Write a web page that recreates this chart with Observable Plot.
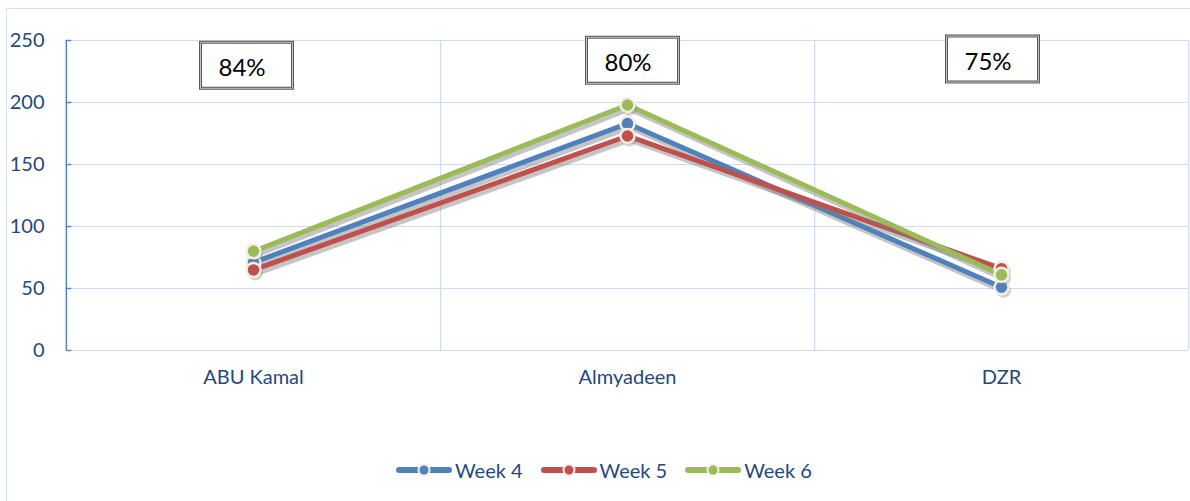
<!DOCTYPE html>
<html>
<head>
<meta charset="utf-8">
<script src="https://cdn.jsdelivr.net/npm/d3@7"></script>
<script src="https://cdn.jsdelivr.net/npm/@observablehq/plot@0.6"></script>
<style>
  html, body { margin: 0; padding: 0; background: #fff; width: 1190px; height: 501px; overflow: hidden; }
  #frame { position: absolute; left: 6px; top: 8px; width: 1200px; height: 520px; border: 1px solid #d5e2f2; box-sizing: border-box; }
  #chart { position: absolute; left: 0; top: 0; }
  #legend { position: absolute; left: 396px; top: 457px; display: flex; align-items: center; font-family: Lato, "Open Sans", sans-serif; font-size: 20px; color: #1f497d; line-height: 26px; }
  .item { display: flex; align-items: center; margin-right: 18px; }
  .item svg { margin-right: 3px; }
</style>
</head>
<body>
<div id="frame"></div>
<div id="chart"></div>
<div id="legend"></div>
<script>
const categories = ["ABU Kamal", "Almyadeen", "DZR"];
const seriesNames = ["Week 4", "Week 5", "Week 6"];
const week4 = [71, 183, 51];
const week5 = [65, 173, 66];
const week6 = [80, 198, 61];
const seriesColors = ["#4f81bd", "#c0504d", "#9bbb59"];
const yTicks = [0, 50, 100, 150, 200, 250];
const shareLabels = ["84%", "80%", "75%"];
const shareY = [230, 234, 235];

const seriesValues = [week4, week5, week6];
const data = [];
seriesNames.forEach((s, si) => categories.forEach((c, ci) => data.push({series: s, cat: c, value: seriesValues[si][ci]})));
const ann = categories.map((c, i) => ({cat: c, label: shareLabels[i], y: shareY[i]}));

const W = 1190, ML = 65, MR = 2;
const step = (W - ML - MR) / categories.length;
const gridColor = "#cddcf0";
const textColor = "#1f497d";

const boxSymbol = {draw(ctx) { ctx.rect(-46, -23, 92, 46); }};
const tickSymbol = {draw(ctx) { ctx.moveTo(0, 0); ctx.lineTo(5, 0); }};

const marks = [
  Plot.gridY(yTicks, {stroke: gridColor, strokeOpacity: 1, strokeWidth: 1.2}),
  Plot.ruleX(categories, {dx: step / 2, stroke: gridColor, strokeWidth: 1.2}),
  Plot.ruleX([categories[0]], {dx: -step / 2, stroke: "#5b84bb", strokeWidth: 1.5}),
  Plot.dot(yTicks, {x: () => categories[0], y: d => d, dx: -step / 2, symbol: tickSymbol, stroke: "#5b84bb", strokeWidth: 1.5}),
  Plot.axisY({ticks: yTicks, tickSize: 0, tickPadding: 21, label: null, fill: textColor}),
  Plot.axisX({tickSize: 0, tickPadding: 19, label: null, fill: textColor})
];

seriesNames.forEach((s, si) => {
  const d = data.filter(r => r.series === s);
  marks.push(Plot.line(d, {x: "cat", y: "value", stroke: "#7f7f7f", strokeOpacity: 0.45, strokeWidth: 5, dx: 2, dy: 4}));
  marks.push(Plot.line(d, {x: "cat", y: "value", stroke: seriesColors[si], strokeWidth: 5}));
});
seriesNames.forEach((s, si) => {
  const d = data.filter(r => r.series === s);
  marks.push(Plot.dot(d, {x: "cat", y: "value", r: 7.5, fill: "#7f7f7f", fillOpacity: 0.35, dx: 2, dy: 3}));
  marks.push(Plot.dot(d, {x: "cat", y: "value", r: 7, fill: seriesColors[si], stroke: "#f1eee3", strokeWidth: 2.5}));
});

const annDx = [-7, 5, -9];
ann.forEach((a, i) => {
  marks.push(Plot.dot([a], {x: "cat", y: "y", dx: annDx[i], symbol: boxSymbol, fill: "white", stroke: "#5a5a5a", strokeWidth: 3}));
  marks.push(Plot.dot([a], {x: "cat", y: "y", dx: annDx[i], symbol: boxSymbol, fill: "none", stroke: "#c4c4c4", strokeWidth: 1}));
  marks.push(Plot.text([a], {x: "cat", y: "y", text: "label", dx: annDx[i] - 4.5, dy: 3, fill: "#000", fontSize: 24}));
});

const chart = Plot.plot({
  width: W,
  height: 420,
  marginLeft: ML,
  marginRight: MR,
  marginTop: 40,
  marginBottom: 70,
  x: {type: "point", domain: categories, padding: 0.5, label: null},
  y: {domain: [0, 250], label: null},
  style: {fontFamily: "Lato, 'Open Sans', sans-serif", fontSize: "20px", color: textColor, background: "transparent", overflow: "visible"},
  marks
});
document.getElementById("chart").appendChild(chart);

const legend = document.getElementById("legend");
seriesNames.forEach((s, si) => {
  const item = document.createElement("div");
  item.className = "item";
  item.innerHTML = `<svg width="56" height="16" viewBox="0 0 56 16">
    <line x1="3" y1="8" x2="53" y2="8" stroke="${seriesColors[si]}" stroke-width="6" stroke-linecap="round"/>
    <circle cx="28" cy="8" r="5.5" fill="${seriesColors[si]}" stroke="#f1eee3" stroke-width="2"/>
  </svg><span>${s}</span>`;
  legend.appendChild(item);
});
</script>
</body>
</html>
